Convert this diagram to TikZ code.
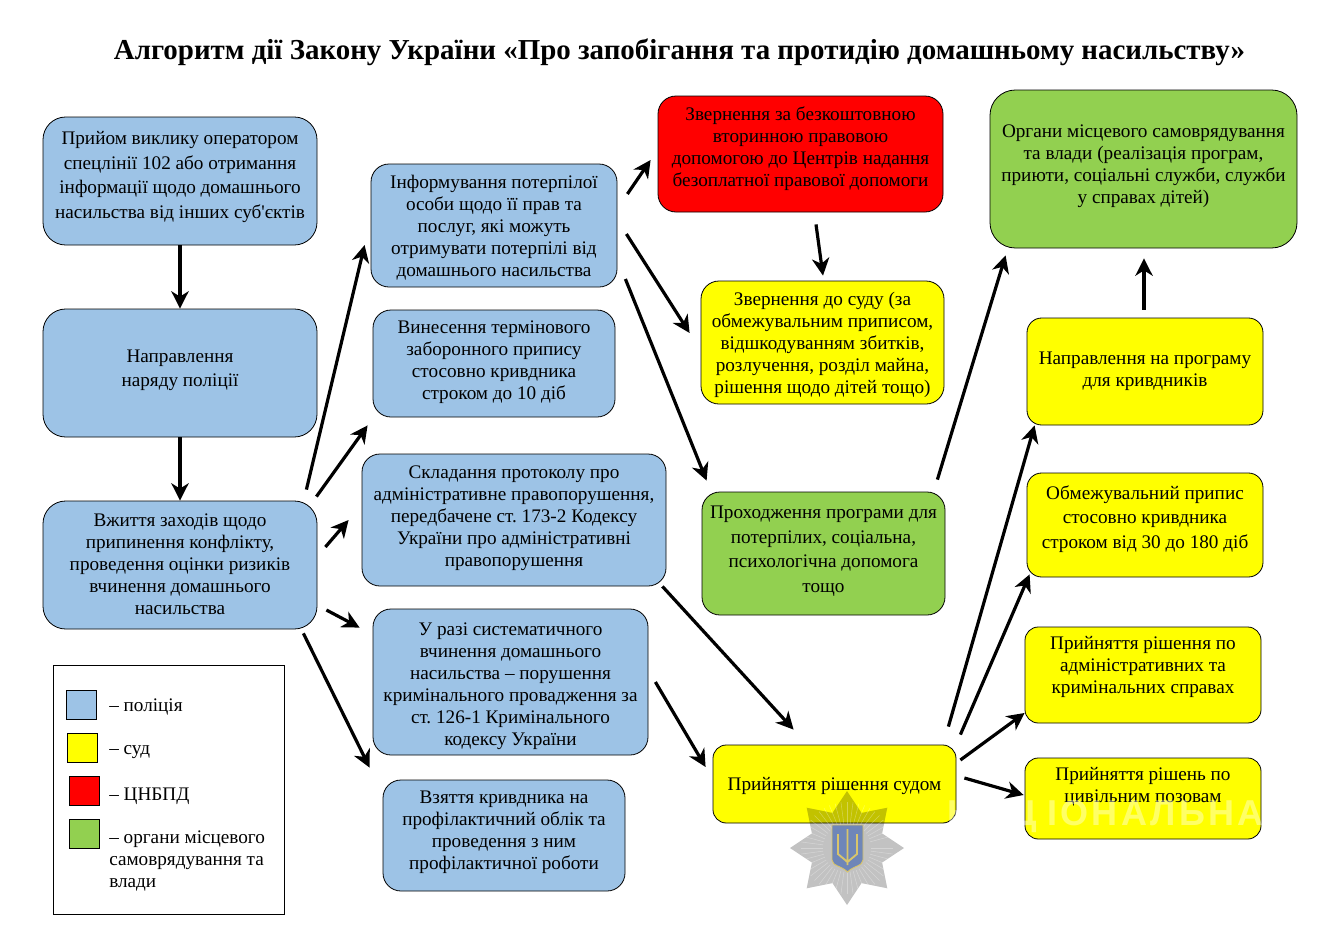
\documentclass[tikz,border=0pt]{standalone}
\usepackage{fontspec}
\setmainfont{Liberation Serif}
\newfontfamily\marksans{Liberation Sans}
\usetikzlibrary{arrows.meta,calc}
\frenchspacing
\definecolor{policeblue}{HTML}{9DC3E6}
\definecolor{courtyellow}{HTML}{FFFF00}
\definecolor{legalred}{HTML}{FF0000}
\definecolor{localgreen}{HTML}{92D050}
\definecolor{shieldblue}{HTML}{6F86B8}
\definecolor{tridentgold}{HTML}{D9C56B}
\begin{document}
\begin{tikzpicture}[x=0.75pt,y=-0.75pt,
    flow/.style={draw=black,line width=0.6pt,inner sep=0pt,align=center,rounded corners=13.5pt,
      font=\fontsize{14.4}{16.5}\selectfont},
    police/.style={flow,fill=policeblue},
    court/.style={flow,fill=courtyellow},
    legal/.style={flow,fill=legalred},
    localgov/.style={flow,fill=localgreen},
    looselines/.style={font=\fontsize{14.4}{18.4}\selectfont},
    size/.style 2 args={minimum width=#1*0.75pt,minimum height=#2*0.75pt},
    lift/.code={\pgfmathsetmacro\liftdp{#1*1.5}\tikzset{text depth=\liftdp pt}},
    link/.style={line width=2.4pt,-{Stealth[length=13pt,width=13pt,inset=4pt]}},
    swatch/.style={draw=black,line width=0.6pt,minimum size=22pt,inner sep=0pt},
    legendtext/.style={anchor=west,align=left,inner sep=0pt,font=\fontsize{14.4}{16.5}\selectfont}]
  \useasboundingbox (0,0) rectangle (1340,925);

  % Title
  \node[font=\fontsize{21.7}{24}\selectfont\bfseries] (title) at (679.5,52)
    {Алгоритм дії Закону України «Про запобігання та протидію домашньому насильству»};

  % Left column
  \node[police,looselines,size={274}{128},rounded corners=17pt,lift=6] (receive) at (180,181)
    {Прийом виклику оператором\\спецлінії 102 або отримання\\інформації щодо домашнього\\насильства від інших суб\textquotesingle{}єктів};
  \node[police,looselines,size={274}{128},rounded corners=17pt,lift=5] (dispatch) at (180,373)
    {Направлення\\наряду поліції};
  \node[police,size={274}{128},rounded corners=17pt,lift=1] (measures) at (180,565)
    {Вжиття заходів щодо\\припинення конфлікту,\\проведення оцінки ризиків\\вчинення домашнього\\насильства};

  % Second column
  \node[police,size={246}{123},lift=0] (inform) at (494,225.5)
    {Інформування потерпілої\\особи щодо її прав та\\послуг, які можуть\\отримувати потерпілі від\\домашнього насильства};
  \node[police,size={242}{107},lift=3.5] (order) at (494,363.5)
    {Винесення термінового\\заборонного припису\\стосовно кривдника\\строком до 10 діб};
  \node[police,size={304}{132},lift=4] (protocol) at (514,520)
    {Складання протоколу про\\адміністративне правопорушення,\\передбачене ст. 173-2 Кодексу\\України про адміністративні\\правопорушення};
  \node[police,size={275}{146},lift=0,text height=95.5pt] (criminal) at (510.5,682)
    {У разі систематичного\\вчинення домашнього\\насильства – порушення\\кримінального провадження за\\ст. 126-1 Кримінального\\кодексу України};
  \node[police,size={242}{111},lift=5.5] (register) at (504,835.5)
    {Взяття кривдника на\\профілактичний облік та\\проведення з ним\\профілактичної роботи};

  % Third column
  \node[legal,size={285}{116},lift=7] (legalaid) at (800.5,154)
    {Звернення за безкоштовною\\вторинною правовою\\допомогою до Центрів надання\\безоплатної правової допомоги};
  \node[court,size={243}{123},lift=0] (lawsuit) at (822.5,342.5)
    {Звернення до суду (за\\обмежувальним приписом,\\відшкодуванням збитків,\\розлучення, розділ майна,\\рішення щодо дітей тощо)};
  \node[localgov,looselines,size={243}{123},lift=4.5] (program) at (823.5,553.5)
    {Проходження програми для\\потерпілих, соціальна,\\психологічна допомога\\тощо};
  \node[court,size={243}{78},rounded corners=10pt,lift=0] (verdict) at (834.5,784)
    {Прийняття рішення судом};

  % Right column
  \node[localgov,size={307}{158},rounded corners=19pt,lift=5] (authority) at (1143.5,169)
    {Органи місцевого самоврядування\\та влади (реалізація програм,\\приюти, соціальні служби, служби\\у справах дітей)};
  \node[court,size={236}{107},rounded corners=11pt,lift=2.5] (offender) at (1145,371.5)
    {Направлення на програму\\для кривдників};
  \node[court,looselines,size={236}{104},rounded corners=11pt,lift=8] (restrict) at (1145,525)
    {Обмежувальний припис\\стосовно кривдника\\строком від 30 до 180 діб};
  \node[court,size={236}{96},rounded corners=10pt,lift=10] (casesadm) at (1143,675)
    {Прийняття рішення по\\адміністративних та\\кримінальних справах};
  \node[court,size={236}{81},rounded corners=10pt,lift=13.5] (casescivil) at (1143,798.5)
    {Прийняття рішень по\\цивільним позовам};

  % Arrows
  \draw[link] (receive.south) -- (dispatch.north);
  \draw[link] (dispatch.south) -- (measures.north);
  \draw[link] ($(measures.north east)+(-11,-11)$) -- ($(inform.west)+(-6,19.5)$);
  \draw[link] ($(measures.north east)+(-1,-4)$) -- ($(order.south west)+(-5,8)$);
  \draw[link] ($(measures.east)+(8,-18)$) -- ($(protocol.west)+(-13,0)$);
  \draw[link] ($(measures.east)+(9,45)$) -- ($(criminal.north west)+(-13,19)$);
  \draw[link] ($(measures.south east)+(-14,4)$) -- ($(register.north west)+(-13,-12)$);
  \draw[link] ($(inform.east)+(10,-31.5)$) -- ($(legalaid.west)+(-7,6)$);
  \draw[link] ($(inform.east)+(9,8.5)$) -- ($(lawsuit.west)+(-11,-9.5)$);
  \draw[link] ($(inform.east)+(8,53.5)$) -- ($(program.north west)+(5,-11)$);
  \draw[link] ($(legalaid.south)+(15.5,12)$) -- ($(lawsuit.north)+(0.5,-5)$);
  \draw[link] ($(program.north east)+(-8,-12)$) -- ($(authority.south west)+(16,7)$);
  \draw[link] ($(offender.north)+(-1,-8)$) -- ($(authority.south)+(0.5,10)$);
  \draw[link] ($(protocol.south east)+(-4,0)$) -- ($(verdict.north west)+(81,-15)$);
  \draw[link] ($(criminal.east)+(7,0)$) -- ($(verdict.west)+(-7,-17)$);
  \draw[link] ($(verdict.north east)+(-8,-18)$) -- ($(offender.south west)+(8,0)$);
  \draw[link] ($(verdict.north east)+(4,-10)$) -- ($(restrict.south west)+(3,-3)$);
  \draw[link] ($(verdict.east)+(4,-24)$) -- ($(casesadm.west)+(0,38)$);
  \draw[link] ($(verdict.east)+(8,-6)$) -- ($(casescivil.west)+(-1,-3.5)$);

  % Legend
  \node[draw=black,line width=0.6pt,inner sep=0pt,size={231}{249}] (legend) at (168.5,789.5) {};
  \node[swatch,fill=policeblue] (keypolice) at (81.5,705) {};
  \node[swatch,fill=courtyellow] (keycourt) at (82.5,748) {};
  \node[swatch,fill=legalred] (keylegal) at (84.5,791) {};
  \node[swatch,fill=localgreen] (keylocal) at (84.5,834) {};
  \node[legendtext] (textpolice) at (109,707) {– поліція};
  \node[legendtext] (textcourt) at (109,752) {– суд};
  \node[legendtext] (textlegal) at (109,796) {– ЦНБПД};
  \node[legendtext,anchor=north west] (textlocal) at (109,831)
    {– органи місцевого\\самоврядування та\\влади};

  % Watermark
  \node[anchor=east,inner sep=0pt,text=white,opacity=0.4,font=\fontsize{27}{30}\marksans\bfseries\addfontfeature{LetterSpace=9}] (markword) at (1264,817)
    {Н\kern6pt АЦ\kern8pt ІОНАЛЬНА};
  \begin{scope}[shift={(847,848)}]
    \fill[black,opacity=0.24] \foreach \a in {0,45,...,315}{
      (0,0) -- (\a-22.5:38) -- (\a:57) -- (\a+22.5:38) -- cycle
    };
    \foreach \a in {0,7.5,...,352}{
      \draw[white,line width=0.4pt,opacity=0.3] (\a:24) -- (\a:46);
    }
    \draw[draw=tridentgold,line width=0.7pt,fill=shieldblue] (-15,-23) -- (16,-23) -- (16,12) .. controls (16,18) and (6,18) .. (0.5,24) .. controls (-5,18) and (-15,18) .. (-15,12) -- cycle;
    \draw[tridentgold,line width=1.4pt] (0.5,-19) -- (0.5,17) (-9,-14) -- (-9,6) -- (0.5,14) -- (10,6) -- (10,-14);
  \end{scope}
\end{tikzpicture}
\end{document}
